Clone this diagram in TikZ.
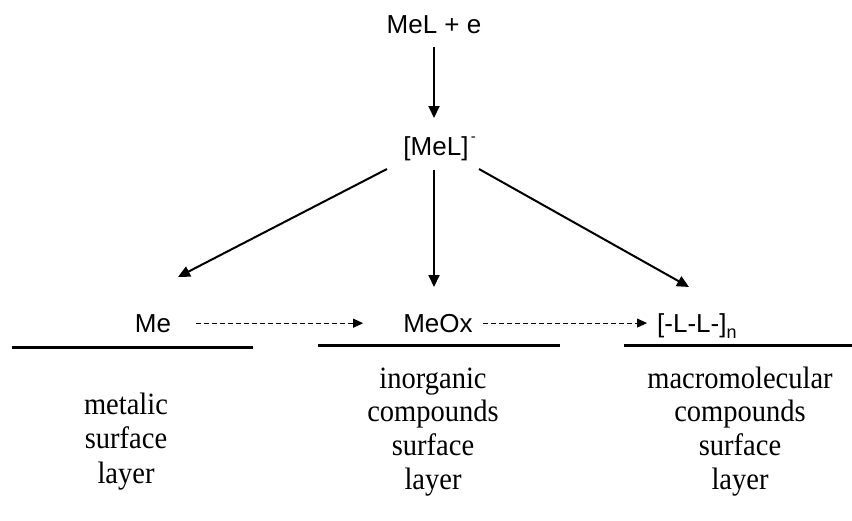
\documentclass[tikz,border=0pt]{standalone}
\usepackage{fontspec}
\newfontfamily\sansf{Liberation Sans}
\newfontfamily\seriff[FakeStretch=0.92]{Liberation Serif}
\usetikzlibrary{arrows.meta,calc}
\begin{document}
\begin{tikzpicture}[x=1pt,y=-1pt,
  lbl/.style={font=\sansf\fontsize{26}{30}\selectfont, inner sep=0pt, text=black},
  desc/.style={font=\seriff\fontsize{31}{34}\selectfont, inner sep=0pt, anchor=base, text=black},
  arr/.style={-{Triangle[length=12pt,width=11pt]}, line width=2pt, black},
  darr/.style={-{Triangle[length=10pt,width=9pt]}, line width=1pt, dash pattern=on 5pt off 3pt, black},
  bar/.style={line width=3pt, black}]
\useasboundingbox (0,0) rectangle (852,520);

% labels
\node[lbl, anchor=base] (top) at (434,33) {MeL + e};
\node[lbl, anchor=base] (mel) at (436,155) {[MeL]};
\node[font=\sansf\fontsize{15}{15}\selectfont, inner sep=0pt, anchor=base west] (melsup) at ($(mel.base east)+(2,-14)$) {-};
\node[lbl, anchor=base] (me) at (153,332) {Me};
\node[lbl, anchor=base] (meox) at (438,332) {MeOx};
\node[lbl, anchor=base west] (poly) at (657,332) {[-L-L-]\raisebox{-6pt}{\fontsize{18}{18}\selectfont n}};

% solid arrows
\draw[arr] ($(top.base)+(0,14)$) -- ($(mel.base)+(-2,-37)$);
\draw[arr] ($(mel.base)+(-49,14)$) -- ($(me.base)+(25,-55)$);
\draw[arr] ($(mel.base)+(-2,15)$) -- ($(meox.base)+(-4,-45)$);
\draw[arr] ($(mel.base)+(43,14)$) -- ($(poly.base west)+(32,-45)$);

% dashed arrows
\draw[darr, shorten <=25pt, shorten >=40pt] (me.east) -- (me.east -| meox.west);
\draw[darr, shorten <=10pt, shorten >=10pt] (meox.east) -- (meox.east -| poly.west);

% surface lines
\draw[bar] (12,347) -- (253,347);
\draw[bar] (318,345) -- (560,345);
\draw[bar] (624,345) -- (852,345);

% descriptions
\node[desc] (l1) at (126,414) {metalic};
\node[desc] (l2) at (126,448) {surface};
\node[desc] (l3) at (126,483) {layer};

\node[desc] (m1) at (433,388) {inorganic};
\node[desc] (m2) at (433,421) {compounds};
\node[desc] (m3) at (433,455) {surface};
\node[desc] (m4) at (433,489) {layer};

\node[desc] (r1) at (740,388) {macromolecular};
\node[desc] (r2) at (740,421) {compounds};
\node[desc] (r3) at (740,455) {surface};
\node[desc] (r4) at (740,489) {layer};
\end{tikzpicture}
\end{document}
